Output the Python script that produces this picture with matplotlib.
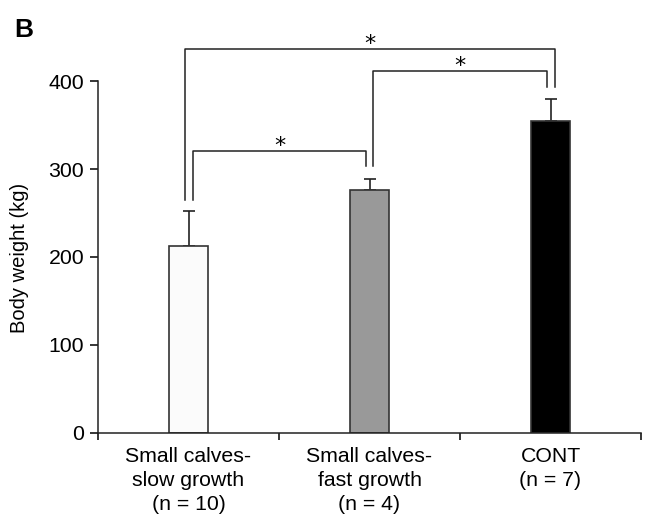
import numpy as np
import matplotlib
matplotlib.use("Agg")
import matplotlib.pyplot as plt

plt.rcParams['font.family'] = ['Liberation Sans', 'DejaVu Sans']

groups = ["Small calves-\nslow growth\n(n = 10)",
          "Small calves-\nfast growth\n(n = 4)",
          "CONT\n(n = 7)"]
weights = [212, 276, 354]
sd = [40, 13, 25]
colors = ["#fbfbfb", "#999999", "#000000"]

# significance brackets: (left bar, right bar, top y, left end y, right end y)
brackets = [(0, 1, 320, 265, 303),
            (1, 2, 411, 303, 393),
            (0, 2, 436, 265, 393)]
bracket_x = [(0.025, 0.98), (1.02, 1.98), (-0.02, 2.025)]

fig = plt.figure(figsize=(6.46, 5.14), dpi=100)
ax = fig.add_axes([98 / 646, 81 / 514, 543 / 646, 387.2 / 514])

x = np.arange(len(groups))
ax.bar(x, weights, width=0.21, color=colors, edgecolor="#333333", linewidth=1.2, zorder=2)
ax.errorbar(x, weights, yerr=[np.zeros(len(sd)), sd], fmt="none", ecolor="#222222",
            elinewidth=1.2, capsize=4.3, capthick=1.2, zorder=1)

for (i, j, top, yl, yr), (xl, xr) in zip(brackets, bracket_x):
    ax.plot([xl, xl, xr, xr], [yl, top, top, yr], color="#222222", lw=1.1, clip_on=False)
    ax.text((xl + xr) / 2, top - 1, "*", ha="center", va="baseline", fontsize=16,
            family="DejaVu Sans")

ax.set_xlim(-0.5, 2.5)
ax.set_ylim(0, 440)
ax.spines['top'].set_visible(False)
ax.spines['right'].set_visible(False)
ax.spines['left'].set_bounds(0, 400)
for s in ['left', 'bottom']:
    ax.spines[s].set_linewidth(1.1)
    ax.spines[s].set_color("#222222")

ax.set_yticks([0, 100, 200, 300, 400])
ax.tick_params(axis='y', labelsize=15.3, length=6, width=1.1, pad=4)
ax.set_xticks([-0.5, 0.5, 1.5, 2.5])
ax.set_xticklabels([])
ax.tick_params(axis='x', which='major', length=5, width=1.1)
ax.set_xticks(x, minor=True)
ax.set_xticklabels(groups, minor=True, fontsize=15.3, linespacing=1.35)
ax.tick_params(axis='x', which='minor', length=0, pad=10)

fig.text(20 / 646, 1 - 258 / 514, "Body weight (kg)", rotation=90, ha="center",
         va="center", fontsize=14.5)
fig.text(14 / 646, 1 - 37 / 514, "B", fontsize=19, fontweight="bold", va="baseline")

fig.savefig("out.png", dpi=100)
